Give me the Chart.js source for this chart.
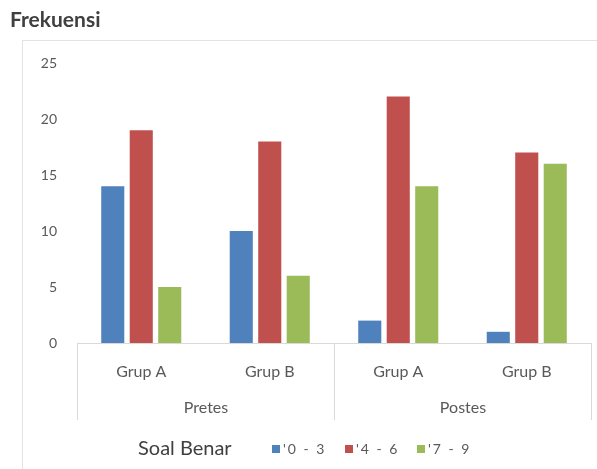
<!DOCTYPE html>
<html>
<head>
<meta charset="utf-8">
<script src="https://cdn.jsdelivr.net/npm/chart.js@4/dist/chart.umd.min.js"></script>
<style>
  html, body { margin: 0; padding: 0; background: #ffffff; }
  #wrap { position: relative; width: 597px; height: 469px; }
  canvas { display: block; filter: blur(0.6px); }
</style>
</head>
<body>
<div id="wrap"><canvas id="chart" width="597" height="469"></canvas></div>
<script>
// Categories on the inner axis level, grouped under the outer level
const categories = ['Grup A', 'Grup B', 'Grup A', 'Grup B'];
const groups = ['Pretes', 'Postes'];
const groupSize = 2;

// Frequency of correct answers per score band
const seriesLabels = ["'0 - 3", "'4 - 6", "'7 - 9"];
const band03 = [14, 10, 2, 1];
const band46 = [19, 18, 22, 17];
const band79 = [5, 6, 14, 16];

const yTicks = [0, 5, 10, 15, 20, 25];

const colors = ['#4F81BD', '#C0504D', '#9BBB59'];
const FONT = 'Lato, "Open Sans", sans-serif';
const LINE = '#d9d9d9';

// Frame, outer category level and the inline legend
const decorations = {
  id: 'decorations',
  beforeDraw(chart) {
    const ctx = chart.ctx;
    ctx.save();
    ctx.strokeStyle = '#e3e3e3';
    ctx.lineWidth = 1;
    ctx.strokeRect(22.5, 40.5, 700, 600);
    ctx.restore();
  },
  afterDraw(chart) {
    const ctx = chart.ctx;
    const x = chart.scales.x;
    const top = x.top;
    const bottom = top + 77;
    // boundaries between outer groups
    const edges = [];
    for (let g = 0; g <= groups.length; g++) {
      const i = g * groupSize;
      let px;
      if (i === 0) px = x.left;
      else if (i >= categories.length) px = x.right;
      else px = (x.getPixelForValue(i - 1) + x.getPixelForValue(i)) / 2;
      edges.push(Math.round(px) + 0.5);
    }
    ctx.save();
    ctx.strokeStyle = LINE;
    ctx.lineWidth = 1;
    edges.forEach(px => {
      ctx.beginPath();
      ctx.moveTo(px, top);
      ctx.lineTo(px, bottom);
      ctx.stroke();
    });
    ctx.fillStyle = '#595959';
    ctx.font = '16px ' + FONT;
    ctx.textAlign = 'center';
    ctx.textBaseline = 'middle';
    groups.forEach((name, g) => {
      ctx.fillText(name, (edges[g] + edges[g + 1]) / 2, top + 65);
    });

    // legend: title followed by series swatches
    const ly = 449;
    ctx.textAlign = 'left';
    ctx.font = '20px ' + FONT;
    ctx.fillStyle = '#404040';
    ctx.fillText('Soal Benar', 138, ly);
    ctx.font = '14px ' + FONT;
    ctx.letterSpacing = '2px';
    const boxX = [272, 345, 417];
    chart.data.datasets.forEach((ds, i) => {
      const bx = boxX[i];
      ctx.fillStyle = ds.backgroundColor;
      ctx.fillRect(bx, ly - 4, 8, 8);
      ctx.fillStyle = '#595959';
      ctx.fillText(ds.label, bx + 11, ly);
    });
    ctx.restore();
  }
};

new Chart(document.getElementById('chart'), {
  type: 'bar',
  data: {
    labels: categories,
    datasets: [
      { label: seriesLabels[0], data: band03, backgroundColor: colors[0] },
      { label: seriesLabels[1], data: band46, backgroundColor: colors[1] },
      { label: seriesLabels[2], data: band79, backgroundColor: colors[2] }
    ]
  },
  options: {
    responsive: false,
    animation: false,
    devicePixelRatio: 1,
    layout: { padding: { top: 63, right: 6, left: 0, bottom: 0 } },
    datasets: { bar: { categoryPercentage: 0.665, barPercentage: 0.81 } },
    plugins: {
      legend: { display: false },
      tooltip: { enabled: false },
      title: { display: false }
    },
    scales: {
      x: {
        grid: { display: false },
        border: { display: true, color: LINE, width: 1 },
        ticks: { color: '#595959', font: { family: FONT, size: 16 }, padding: 11 },
        afterFit(s) { s.height = 126; }
      },
      y: {
        min: 0,
        max: 25,
        afterBuildTicks(s) { s.ticks = yTicks.map(v => ({ value: v })); },
        grid: { display: false, drawTicks: false },
        border: { display: false },
        ticks: { color: '#595959', font: { family: FONT, size: 14 }, padding: 20 },
        afterFit(s) { s.width = 77; }
      }
    }
  },
  plugins: [decorations, {
    id: 'axisTitle',
    afterDraw(chart) {
      const ctx = chart.ctx;
      ctx.save();
      ctx.fillStyle = '#404040';
      ctx.font = 'bold 21px ' + FONT;
      ctx.textAlign = 'left';
      ctx.textBaseline = 'middle';
      ctx.fillText('Frekuensi', 10, 20);
      ctx.restore();
    }
  }]
});
</script>
</body>
</html>
